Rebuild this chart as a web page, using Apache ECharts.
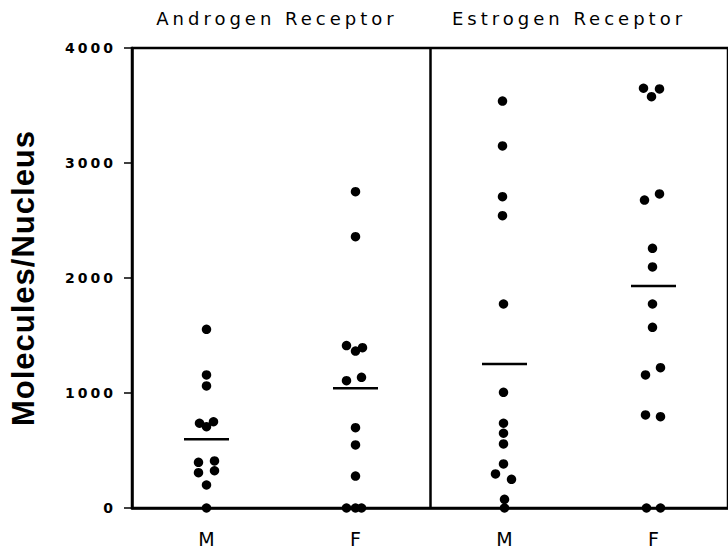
<!DOCTYPE html>
<html>
<head>
<meta charset="utf-8">
<script src="https://cdn.jsdelivr.net/npm/echarts@6/dist/echarts.min.js"></script>
<style>
  html, body { margin: 0; padding: 0; background: #fff; }
  #chart { width: 728px; height: 549px; }
</style>
</head>
<body>
<div id="chart"></div>
<script>
// Group labels along the bottom and the two panel headings
const categories = ['M', 'F', 'M', 'F'];
const panelTitles = ['Androgen Receptor', 'Estrogen Receptor'];
const yAxisTitle = 'Molecules/Nucleus';
const yTicks = [0, 1000, 2000, 3000, 4000];

// Receptor molecules per nucleus, one value per animal
const androgenMale = [1554, 1157, 1061, 750, 737, 707, 409, 397, 324, 307, 200, 0];
const androgenFemale = [2751, 2359, 1412, 1394, 1365, 1136, 1107, 698, 548, 278, 0, 0, 0];
const estrogenMale = [3539, 3148, 2707, 2542, 1774, 1006, 737, 650, 557, 383, 296, 249, 75, 0];
const estrogenFemale = [3650, 3644, 3577, 2731, 2678, 2258, 2096, 1774, 1571, 1220, 1157, 809, 794, 0, 0];

// Group means (short horizontal bars)
const groupMeans = [597, 1041, 1252, 1931];

// Sideways nudge in px so touching dots sit next to each other
const androgenMaleDodge = [0, 0, 0, 7, -7, 0, 8, -8, 8, -8, 0, 0];
const androgenFemaleDodge = [0, 0, -9, 7, 0, 6, -9, 0, 0, 0, -9, 0, 6];
const estrogenMaleDodge = [-2, -2, -2, -2, -1, -1, -1, -1, -1, -1, -9, 7, 0, 0];
const estrogenFemaleDodge = [-10, 6, -2, 6, -9, -1, -1, -1, -1, 7, -8, -8, 7, -7, 7];

const groups = [
  [androgenMale, androgenMaleDodge],
  [androgenFemale, androgenFemaleDodge],
  [estrogenMale, estrogenMaleDodge],
  [estrogenFemale, estrogenFemaleDodge]
];

const dots = [];
groups.forEach(([vals, dodge], gi) => {
  vals.forEach((v, i) => {
    dots.push({ value: [gi, v], symbolOffset: [dodge[i] || 0, 0] });
  });
});
const meanPoints = groupMeans.map((m, gi) => [gi, m]);

const chart = echarts.init(document.getElementById('chart'), null, { renderer: 'svg' });

const FONT = '"DejaVu Sans", sans-serif';
const INK = '#000';

chart.setOption({
  animation: false,
  backgroundColor: '#fff',
  grid: {
    left: 132, top: 48, width: 603, height: 460,
    show: true, borderColor: INK, borderWidth: 2.5, backgroundColor: 'transparent'
  },
  graphic: [
    { type: 'text', x: 277, y: 18, style: { text: panelTitles[0], fill: INK, font: '18px ' + FONT, textAlign: 'center', textVerticalAlign: 'middle' } },
    { type: 'text', x: 569, y: 18, style: { text: panelTitles[1], fill: INK, font: '18px ' + FONT, textAlign: 'center', textVerticalAlign: 'middle' } }
  ],
  xAxis: [
    {
      type: 'category',
      data: categories,
      boundaryGap: true,
      axisLine: { lineStyle: { color: INK, width: 2.5 } },
      axisTick: { alignWithLabel: true, length: 4, lineStyle: { color: INK, width: 1.5 } },
      axisLabel: { color: INK, fontFamily: FONT, fontSize: 19, margin: 21 },
      splitLine: { show: false }
    },
    {
      // hidden helper axis spanning the four groups, used for the panel divider
      type: 'value', min: 0, max: categories.length, show: false
    }
  ],
  yAxis: {
    type: 'value',
    min: yTicks[0],
    max: yTicks[yTicks.length - 1],
    interval: 1000,
    name: yAxisTitle,
    nameLocation: 'middle',
    nameGap: 93,
    nameTextStyle: { color: INK, fontFamily: '"Liberation Sans", Arial, sans-serif', fontWeight: 'bold', fontSize: 31 },
    axisLine: { show: true, lineStyle: { color: INK, width: 2.5 } },
    axisTick: { show: true, length: 8, lineStyle: { color: INK, width: 1.5 } },
    axisLabel: { color: INK, fontFamily: FONT, fontWeight: 'bold', fontSize: 14, margin: 16, formatter: (v) => String(v) },
    splitLine: { show: false }
  },
  series: [
    {
      type: 'scatter',
      data: dots,
      symbol: 'circle',
      symbolSize: 9.5,
      clip: false,
      itemStyle: { color: INK, opacity: 1 },
      z: 3
    },
    {
      type: 'scatter',
      data: meanPoints,
      symbol: 'rect',
      symbolSize: [45, 2.5],
      clip: false,
      itemStyle: { color: INK, opacity: 1 },
      z: 2
    },
    {
      // divider between the androgen and estrogen panels
      type: 'scatter',
      xAxisIndex: 1,
      data: [],
      silent: true,
      markLine: {
        symbol: 'none',
        silent: true,
        label: { show: false },
        lineStyle: { color: INK, width: 2.5, type: 'solid' },
        data: [{ xAxis: categories.length / 2 }]
      }
    }
  ]
});

// Wide tracking on the typeset labels
function applySpacing() {
  document.querySelectorAll('#chart text').forEach((t) => {
    const s = t.textContent;
    let ls = 0;
    if (panelTitles.includes(s)) ls = 4;
    else if (/^\d+$/.test(s)) ls = 3;
    else if (s === yAxisTitle) ls = 1;
    t.style.letterSpacing = ls + 'px';
  });
}
applySpacing();
chart.on('finished', applySpacing);
setTimeout(applySpacing, 50);
</script>
</body>
</html>
